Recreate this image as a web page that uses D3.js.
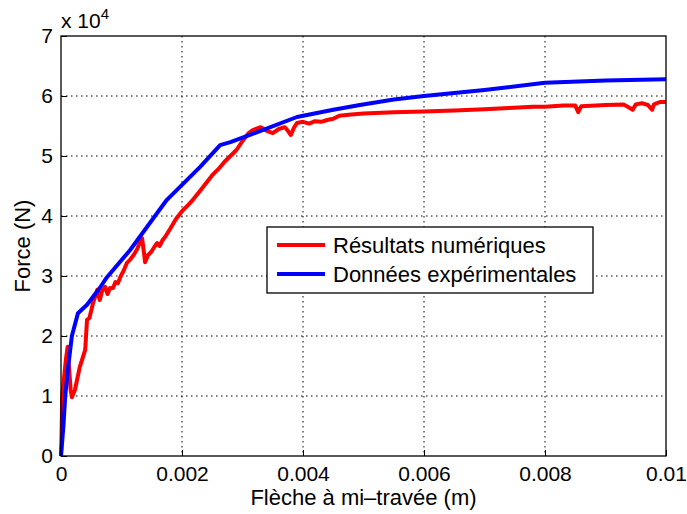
<!DOCTYPE html>
<html><head><meta charset="utf-8">
<script src="https://cdn.jsdelivr.net/npm/d3@7"></script>
<style>
body{margin:0;background:#fff;}
text{font-family:"Liberation Sans",Arial,Helvetica,sans-serif;fill:#000;}
</style></head>
<body><svg id="c" width="687" height="514"></svg>
<script>
const xTicks = [0, 0.002, 0.004, 0.006, 0.008, 0.01];
const xTickLabels = ["0", "0.002", "0.004", "0.006", "0.008", "0.01"];
const yTicks = [0, 1, 2, 3, 4, 5, 6, 7];
const yTickLabels = ["0", "1", "2", "3", "4", "5", "6", "7"];
const seriesNames = ["Résultats numériques", "Données expérimentales"];
const seriesColors = ["#ff0000", "#0000ff"];
// force in units of 10^4 N
const redData = [[0,0],[0.00001,0.4],[0.00002,1.0],[0.00005,1.3],[0.00008,1.6],[0.00011,1.82],[0.00013,1.5],[0.00016,1.1],[0.00018,0.98],[0.00023,1.1],[0.00031,1.48],[0.0004,1.77],[0.00043,2.27],[0.00047,2.3],[0.00053,2.55],[0.0006,2.77],[0.00064,2.6],[0.00068,2.75],[0.00073,2.82],[0.00077,2.7],[0.00081,2.8],[0.00086,2.8],[0.0009,2.9],[0.00094,2.88],[0.00098,2.98],[0.00104,3.1],[0.00109,3.22],[0.00114,3.27],[0.0012,3.35],[0.00126,3.45],[0.0013,3.55],[0.00134,3.63],[0.00137,3.4],[0.00139,3.23],[0.00144,3.35],[0.00149,3.4],[0.00154,3.48],[0.00159,3.55],[0.00163,3.5],[0.00168,3.6],[0.00172,3.65],[0.0018,3.78],[0.0019,3.95],[0.002,4.08],[0.0021,4.18],[0.00218,4.27],[0.0023,4.42],[0.0024,4.55],[0.0025,4.68],[0.0026,4.78],[0.0027,4.9],[0.0028,5.0],[0.0029,5.1],[0.003,5.25],[0.0031,5.38],[0.00317,5.43],[0.0033,5.48],[0.0034,5.42],[0.0035,5.38],[0.0036,5.45],[0.0037,5.48],[0.00375,5.42],[0.0038,5.35],[0.00385,5.47],[0.0039,5.55],[0.004,5.57],[0.0041,5.54],[0.0042,5.58],[0.0043,5.57],[0.0044,5.6],[0.0045,5.62],[0.0046,5.67],[0.0048,5.69],[0.005,5.71],[0.0055,5.73],[0.006,5.74],[0.0065,5.76],[0.007,5.78],[0.0074,5.8],[0.0078,5.82],[0.008,5.82],[0.0083,5.84],[0.0085,5.84],[0.00855,5.73],[0.0086,5.83],[0.009,5.85],[0.0093,5.86],[0.00945,5.77],[0.0095,5.86],[0.0096,5.88],[0.0097,5.85],[0.00977,5.77],[0.0098,5.86],[0.0099,5.9],[0.01,5.9]];
const blueData = [[0,0],[0.00004,0.5],[0.00007,1.0],[0.00012,1.5],[0.00018,2.0],[0.00028,2.38],[0.00043,2.52],[0.00064,2.8],[0.00076,2.98],[0.00114,3.43],[0.00175,4.27],[0.002,4.52],[0.0023,4.82],[0.00263,5.18],[0.0028,5.23],[0.0033,5.42],[0.0039,5.65],[0.0045,5.77],[0.00494,5.85],[0.0055,5.94],[0.006,6.0],[0.007,6.1],[0.008,6.22],[0.009,6.26],[0.01,6.28]];

const svg = d3.select("#c");
svg.append("rect").attr("width",687).attr("height",514).attr("fill","#fff");
const L=61,R=666,T=36,B=456;
const x = d3.scaleLinear().domain([0,0.01]).range([L,R]);
const y = d3.scaleLinear().domain([0,7]).range([B,T]);
const fs = 22, tfs = 21;

// grid
const g = svg.append("g");
g.selectAll(".vg").data(xTicks.slice(1,-1)).enter().append("line")
 .attr("x1",d=>x(d)).attr("x2",d=>x(d)).attr("y1",T).attr("y2",B)
 .attr("stroke","#000").attr("stroke-width",1).attr("stroke-dasharray","1.5,3.5");
g.selectAll(".hg").data(yTicks.slice(1,-1)).enter().append("line")
 .attr("y1",d=>y(d)).attr("y2",d=>y(d)).attr("x1",L).attr("x2",R)
 .attr("stroke","#000").attr("stroke-width",1).attr("stroke-dasharray","1.5,3.5");

// axes
const xAxis = d3.axisBottom(x).tickValues(xTicks).tickSize(-6).tickPadding(10)
  .tickFormat((d,i)=>xTickLabels[i]);
const yAxis = d3.axisLeft(y).tickValues(yTicks).tickSize(-6).tickPadding(8)
  .tickFormat((d,i)=>yTickLabels[i]);
const ax = svg.append("g").attr("transform",`translate(0,${B})`).call(xAxis);
const ay = svg.append("g").attr("transform",`translate(${L},0)`).call(yAxis);
[ax,ay].forEach(a=>{
  a.select(".domain").remove();
  a.selectAll(".tick line").attr("stroke","#000").attr("stroke-width",1);
  a.selectAll("text").attr("font-size",tfs).attr("font-family","Liberation Sans, Arial, sans-serif").attr("fill","#000");
});
ax.selectAll("text").attr("dy","0.71em");

// lines
const line = d3.line().x(d=>x(d[0])).y(d=>y(d[1]));
svg.append("path").datum(redData).attr("d",line).attr("fill","none")
 .attr("stroke",seriesColors[0]).attr("stroke-width",4).attr("stroke-linejoin","round");
svg.append("path").datum(blueData).attr("d",line).attr("fill","none")
 .attr("stroke",seriesColors[1]).attr("stroke-width",4).attr("stroke-linejoin","round");

// box
svg.append("rect").attr("x",L).attr("y",T).attr("width",R-L).attr("height",B-T)
 .attr("fill","none").attr("stroke","#000").attr("stroke-width",1.3);

// exponent
const ex = svg.append("text").attr("x",61).attr("y",28).attr("font-size",tfs);
ex.append("tspan").text("x 10");
ex.append("tspan").attr("font-size",15).attr("dy",-9).text("4");

// axis labels
svg.append("text").attr("x",(L+R)/2).attr("y",505).attr("text-anchor","middle")
 .attr("font-size",fs).text("Flèche à mi–travée (m)");
svg.append("text").attr("transform","translate(30,246) rotate(-90)").attr("text-anchor","middle")
 .attr("font-size",fs).text("Force (N)");

// legend
const lg = svg.append("g");
lg.append("rect").attr("x",267).attr("y",227).attr("width",326).attr("height",66)
 .attr("fill","#fff").attr("stroke","#000").attr("stroke-width",1.3);
seriesNames.forEach((n,i)=>{
  const yy = 245 + i*29;
  lg.append("line").attr("x1",277).attr("x2",325).attr("y1",yy).attr("y2",yy)
    .attr("stroke",seriesColors[i]).attr("stroke-width",4);
  lg.append("text").attr("x",333).attr("y",yy+8).attr("font-size",fs).text(n);
});
</script></body></html>
